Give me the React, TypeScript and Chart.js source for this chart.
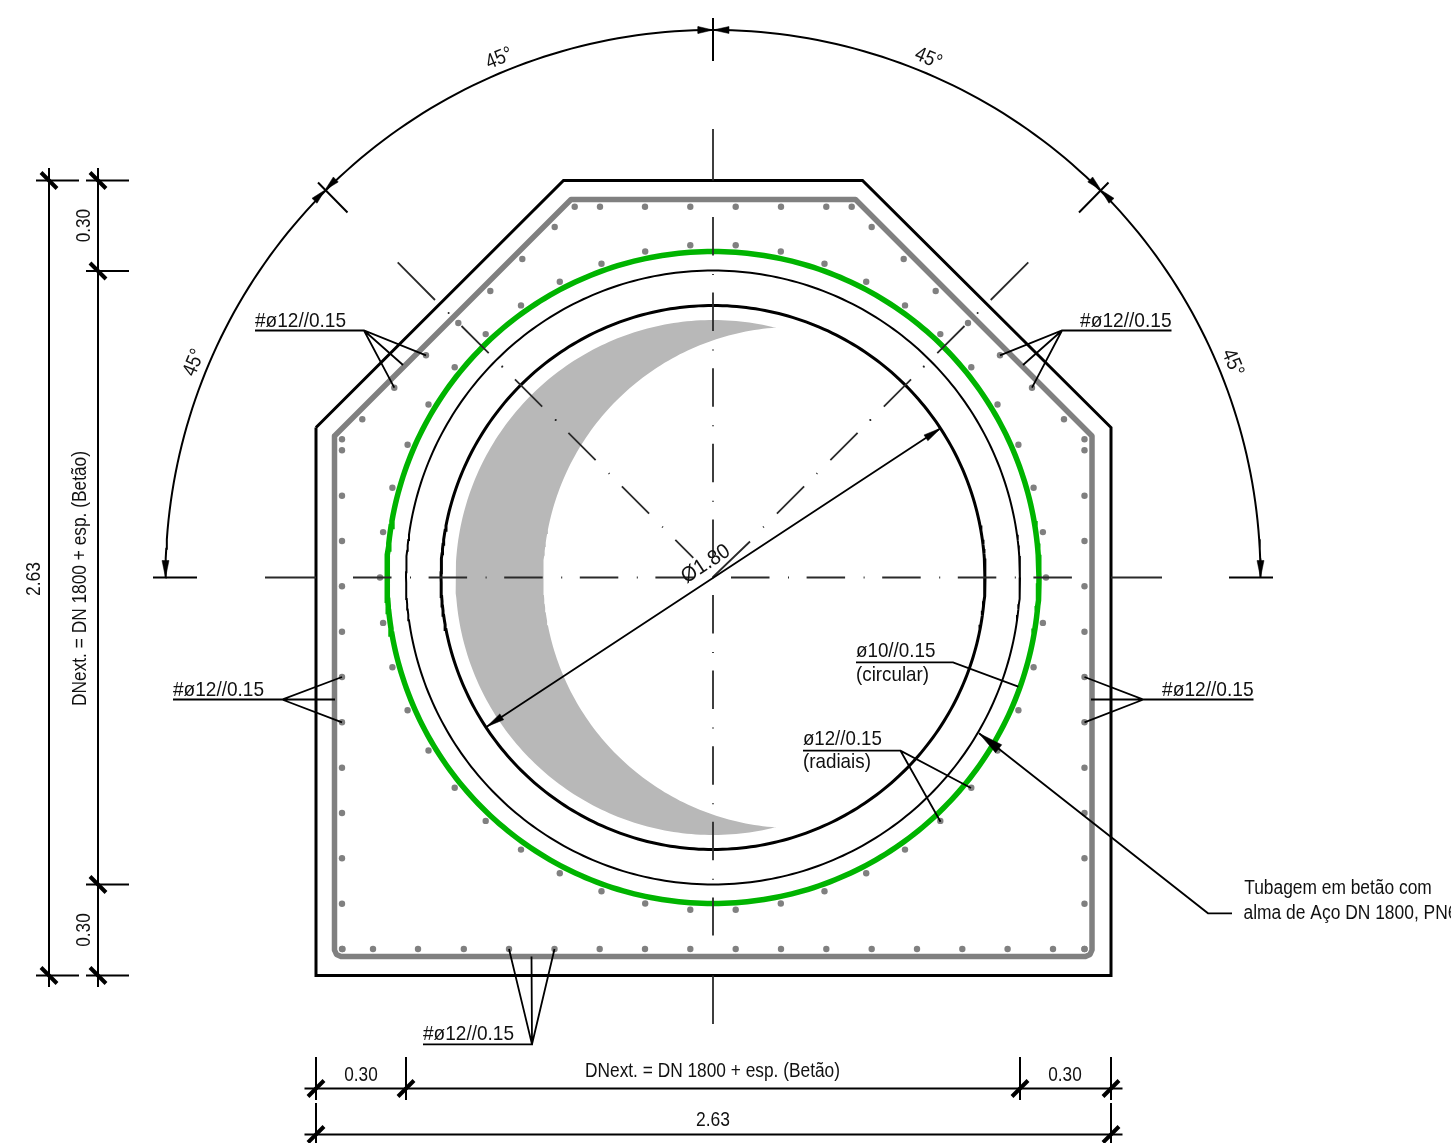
import React, { useEffect, useRef } from "react";
import { Chart, registerables } from "chart.js";

Chart.register(...registerables);

type P = [number, number];

// Drawing frame of the section (drawing units = 1 per reference pixel)
const FRAME_W = 1451;
const FRAME_H = 1143;
const CENTRE: P = [713, 577.5];

// Concrete outline and reinforcement cage
const outerWall: P[] = [[316, 427.5], [563.5, 180.5], [862.5, 180.5], [1111, 427.5], [1111, 975.5], [316, 975.5], [316, 427.5]];
const rebarCage: P[] = [[334.5, 436], [334.5, 950], [336.5, 954.5], [341, 956.5], [1085.5, 956.5], [1090, 954.5], [1092, 950], [1092, 436], [855.5, 199.5], [571, 199.5], [334.5, 436]];

// Pipe rings: radius of each circle
const RING_INNER = 272;
const RING_MIDDLE = 307;
const RING_GREEN = 326;
const ARC_RADIUS = 547.5;

// Crescent (water level shading): [cx, cy, r, fromDeg, toDeg]
const crescentOuter: number[] = [713, 577.5, 257.5, -75.9, -284.1];
const crescentInner: number[] = [793.9, 577.5, 250.6, -265.9, -94.1];

// Reinforcement bar sections
const barsTopX = [574.7, 600, 645, 690.3, 735.7, 781, 826.3, 851.7];
const barsBottomX = [342.5, 373, 418, 463.8, 509, 554.5, 599.7, 645, 690.3, 735.7, 781, 826.3, 871.7, 917, 962.3, 1007.6, 1053, 1084.5];
const barsSideY = [439.3, 450.3, 495.7, 541, 586.3, 631.7, 677, 722.3, 767.7, 813, 858.3, 903.7, 949];
const barsDiagLeft: P[] = [[554.7, 227], [522.3, 259], [490.3, 291], [458.3, 323], [426, 355.3], [394.3, 387.7], [362.3, 419.3]];
const barsDiagRight: P[] = [[871.7, 227], [903.7, 259], [935.7, 291], [968, 323], [1000, 355.3], [1032, 387.7], [1064, 419.3]];
const barsRingOffsets: P[] = [[22.7, 332.2], [67.8, 326], [111.5, 313.8], [153.2, 295.7], [192, 272.1], [227.3, 243.4], [258.3, 210.2], [284.5, 173], [305.4, 132.7], [320.6, 89.8], [329.9, 45.4]];
const barsRingSides: P[] = [[380, 577.5], [1046, 577.5]];

// Leader lines
const leaders: P[][] = [
  [[255, 330.5], [364, 330.5], [426, 355.3]], [[364, 330.5], [403, 365]], [[364, 330.5], [394.3, 387.7]],
  [[1171.5, 330.5], [1062, 330.5], [1000, 355.3]], [[1062, 330.5], [1023, 365]], [[1062, 330.5], [1032, 387.7]],
  [[173, 699.5], [282, 699.5], [342, 677]], [[282, 699.5], [335, 699.5]], [[282, 699.5], [342, 722.3]],
  [[1253.5, 699.5], [1143.5, 699.5], [1084.5, 677]], [[1143.5, 699.5], [1091, 699.5]], [[1143.5, 699.5], [1084.5, 722.3]],
  [[423, 1044.3], [532, 1044.3], [509, 949]], [[532, 1044.3], [531.5, 956.5]], [[532, 1044.3], [554.5, 949]],
  [[856, 662.3], [953, 662.3], [1018.3, 686.7]],
  [[803, 750.7], [900.5, 750.7], [971, 788]], [[900.5, 750.7], [940.5, 821.7]],
  [[979, 733.3], [1208, 913.3], [1232, 913.3]],
  [[941, 428], [486.7, 726.7]],
];

// Dimension lines and extension lines
const dimensionLines: P[][] = [
  [[49, 168], [49, 987]], [[98, 168], [98, 987]],
  [[36, 180.5], [79, 180.5]], [[86, 180.5], [129, 180.5]],
  [[86, 271], [129, 271]], [[86, 884.5], [129, 884.5]],
  [[36, 975.5], [79, 975.5]], [[86, 975.5], [129, 975.5]],
  [[304.5, 1088.5], [1122.5, 1088.5]], [[304.5, 1134.5], [1122.5, 1134.5]],
  [[316, 1057], [316, 1100]], [[406, 1057], [406, 1100]], [[1020, 1057], [1020, 1100]], [[1111, 1057], [1111, 1100]],
  [[316, 1103], [316, 1143]], [[1111, 1103], [1111, 1143]],
  [[713, 18], [713, 61]],
  [[318, 182.5], [347.5, 212.5]], [[1108.5, 182.5], [1079, 212.5]],
  [[153, 577.5], [197, 577.5]], [[1229, 577.5], [1273, 577.5]],
];
const heavyTicks: P[][] = [
  [[41, 172.5], [57, 188.5]], [[90, 172.5], [106, 188.5]], [[90, 263], [106, 279]],
  [[90, 876.5], [106, 892.5]], [[41, 967.5], [57, 983.5]], [[90, 967.5], [106, 983.5]],
  [[308, 1096.5], [324, 1080.5]], [[398, 1096.5], [414, 1080.5]], [[1012, 1096.5], [1028, 1080.5]], [[1103, 1096.5], [1119, 1080.5]],
  [[308, 1142.5], [324, 1126.5]], [[1103, 1142.5], [1119, 1126.5]],
];

// Axis lines
const axisStubs: P[][] = [
  [[265, 577.5], [316, 577.5]], [[1111, 577.5], [1162, 577.5]],
  [[713, 129], [713, 180.5]], [[713, 975.5], [713, 1024]],
  [[397.7, 262.3], [435, 300]], [[1028.3, 262.3], [990.7, 300]],
  [[750, 541.5], [713, 577]],
];
const axisDashed: P[][] = [
  [[353, 577.5], [1072, 577.5]],
  [[713, 217], [713, 935.5]],
  [[461.5, 326], [693.3, 557.8]],
  [[964.5, 326], [751, 539.5]],
];
const axisDots: P[] = [[448.6, 313], [555.7, 420], [502.3, 366.6], [977.6, 313], [870.3, 420], [923.7, 366.6]];

// Arrowheads: [tipX, tipY, backDirX, backDirY, length, width]
const arrowHeads: number[][] = [
  [713, 30, -1, 0, 15, 7], [713, 30, 1, 0, 16, 7],
  [325, 190, -0.7, 0.72, 15, 7], [325, 190, 0.72, -0.7, 15, 7],
  [1101, 190, 0.7, 0.72, 15, 7], [1101, 190, -0.72, -0.7, 15, 7],
  [165.5, 577.5, 0, -1, 17, 7], [1260.5, 577.5, 0, -1, 17, 7],
  [941, 428, -0.836, 0.549, 18, 7], [486.7, 726.7, 0.836, -0.549, 18, 7],
  [979, 733.3, 0.786, 0.618, 25, 10],
];

// Text: [text, x, baselineY, rotationDeg, width, fontSize]
const texts: [string, number, number, number, number, number][] = [
  ["45°", 501.5, 64, -22.5, 27, 21], ["45°", 926, 64, 22.5, 27, 21],
  ["45°", 199.6, 365, -67.5, 27, 21], ["45°", 1227, 365, 67.5, 27, 21],
  ["#ø12//0.15", 300.5, 327, 0, 91, 21], ["#ø12//0.15", 1125.8, 327, 0, 91.5, 21],
  ["#ø12//0.15", 218.5, 695.7, 0, 91, 21], ["#ø12//0.15", 1207.8, 695.7, 0, 91.5, 21],
  ["#ø12//0.15", 468.5, 1040, 0, 91, 21],
  ["ø10//0.15", 895.7, 657, 0, 79.5, 21], ["(circular)", 892.5, 681, 0, 73, 21],
  ["ø12//0.15", 842.4, 744.6, 0, 79, 21], ["(radiais)", 836.9, 768.3, 0, 68, 21],
  ["Tubagem em betão com", 1338, 894, 0, 187.5, 19.5],
  ["alma de Aço DN 1800, PN6", 1350.5, 919, 0, 214, 19.5],
  ["DNext. = DN 1800 + esp. (Betão)", 712.5, 1076.7, 0, 255, 19.5],
  ["0.30", 361, 1081, 0, 33.5, 21], ["0.30", 1065, 1081, 0, 33.5, 21],
  ["2.63", 713, 1126, 0, 34, 21],
  ["2.63", 40, 579, -90, 34, 21],
  ["DNext. = DN 1800 + esp. (Betão)", 86, 578.5, -90, 255, 19.5],
  ["0.30", 90, 225.6, -90, 33.5, 21], ["0.30", 90, 930, -90, 33.5, 21],
  ["Ø1.80", 709, 569, -33.3, 54, 21],
];

const arc = (cx: number, cy: number, r: number, from: number, to: number): P[] => {
  const out: P[] = [];
  const steps = Math.ceil(Math.abs(to - from));
  for (let i = 0; i <= steps; i++) {
    const a = ((from + ((to - from) * i) / steps) * Math.PI) / 180;
    out.push([cx + r * Math.cos(a), cy + r * Math.sin(a)]);
  }
  return out;
};

const toXY = (pts: P[]) => pts.map(([x, y]) => ({ x, y }));
const joined = (lines: P[][]) =>
  lines.flatMap((l, i) => (i ? [{ x: null as any, y: null as any }, ...toXY(l)] : toXY(l)));

const headPolygon = ([tx, ty, dx, dy, len, w]: number[]): P[] => {
  const bx = tx + dx * len;
  const by = ty + dy * len;
  return [[tx, ty], [bx - (dy * w) / 2, by + (dx * w) / 2], [bx + (dy * w) / 2, by - (dx * w) / 2], [tx, ty]];
};

const ringBars: P[] = barsRingOffsets.flatMap(([dx, dy]) => [
  [CENTRE[0] - dx, CENTRE[1] - dy], [CENTRE[0] + dx, CENTRE[1] - dy],
  [CENTRE[0] - dx, CENTRE[1] + dy], [CENTRE[0] + dx, CENTRE[1] + dy],
] as P[]);

const allBars: P[] = [
  ...barsTopX.map((x) => [x, 206.7] as P),
  ...barsBottomX.map((x) => [x, 949] as P),
  ...barsSideY.map((y) => [342, y] as P),
  ...barsSideY.map((y) => [1084.5, y] as P),
  ...barsDiagLeft,
  ...barsDiagRight,
  ...ringBars,
  ...barsRingSides,
];

const textPlugin = {
  id: "drawingText",
  afterDatasetsDraw(chart: any) {
    const { ctx, scales } = chart;
    ctx.save();
    ctx.fillStyle = "#111111";
    ctx.textAlign = "center";
    ctx.textBaseline = "alphabetic";
    for (const [t, x, y, rot, width, size] of texts) {
      ctx.save();
      ctx.font = `${size}px "Liberation Sans"`;
      const natural = ctx.measureText(t).width;
      ctx.translate(scales.x.getPixelForValue(x), scales.y.getPixelForValue(y));
      ctx.rotate((rot * Math.PI) / 180);
      ctx.scale(width / natural, 1);
      ctx.fillText(t, 0, 0);
      ctx.restore();
    }
    ctx.restore();
  },
};

export default function App() {
  const ref = useRef<HTMLCanvasElement>(null);
  useEffect(() => {
    const line = (data: any[], color: string, width: number, extra: any = {}) => ({
      data, borderColor: color, borderWidth: width, showLine: true, pointRadius: 0, tension: 0, fill: false, spanGaps: false, ...extra,
    });
    const [cx, cy] = CENTRE;
    const crescent = [...arc(...(crescentOuter as [number, number, number, number, number])), ...arc(...(crescentInner as [number, number, number, number, number]))];
    const centreDash = { borderDash: [38.5, 18.5, 1, 17.6], borderCapStyle: "butt" };
    const sets: any[] = [
      line(toXY(crescent), "#b8b8b8", 0, { fill: "shape", backgroundColor: "#b8b8b8" }),
      line(toXY(rebarCage), "#808080", 5.5, { borderJoinStyle: "round" }),
      { data: toXY(allBars), backgroundColor: "#808080", borderWidth: 0, pointRadius: 3.2, pointStyle: "circle", showLine: false },
      line(toXY(arc(cx, cy, RING_GREEN, 0, 360)), "#00b400", 5.5),
      line(toXY(arc(cx, cy, RING_MIDDLE, 0, 360)), "#000000", 2),
      line(toXY(arc(cx, cy, RING_INNER, 0, 360)), "#000000", 3),
      line(toXY(outerWall), "#000000", 3),
      ...axisDashed.map((l) => line(toXY(l), "#2a2a2a", 1.8, centreDash)),
      line(joined(axisStubs), "#2a2a2a", 1.8),
      { data: toXY(axisDots), backgroundColor: "#222222", borderWidth: 0, pointRadius: 1, showLine: false },
      line(toXY(arc(cx, cy, ARC_RADIUS, 180, 360)), "#000000", 2),
      line(joined(dimensionLines), "#000000", 2),
      line(joined(heavyTicks), "#000000", 4),
      line(joined(leaders), "#000000", 1.8),
      ...arrowHeads.map((h) => line(toXY(headPolygon(h)), "#000000", 0.5, { fill: "shape", backgroundColor: "#000000" })),
    ];
    sets.forEach((s, i) => { s.order = -i; });
    const chart = new Chart(ref.current as HTMLCanvasElement, {
      type: "scatter",
      data: { datasets: sets },
      options: {
        animation: false,
        responsive: false,
        devicePixelRatio: 1,
        layout: { padding: 0, autoPadding: false },
        events: [],
        scales: {
          x: { type: "linear", min: 0, max: FRAME_W, display: false },
          y: { type: "linear", min: 0, max: FRAME_H, reverse: true, display: false },
        },
        plugins: { legend: { display: false }, tooltip: { enabled: false } },
      } as any,
      plugins: [textPlugin as any],
    });
    return () => chart.destroy();
  }, []);
  return (
    <div style={{ position: "absolute", left: 0, top: 0, width: FRAME_W, height: FRAME_H, background: "#ffffff" }}>
      <canvas ref={ref} width={FRAME_W} height={FRAME_H} style={{ display: "block" }} />
    </div>
  );
}
